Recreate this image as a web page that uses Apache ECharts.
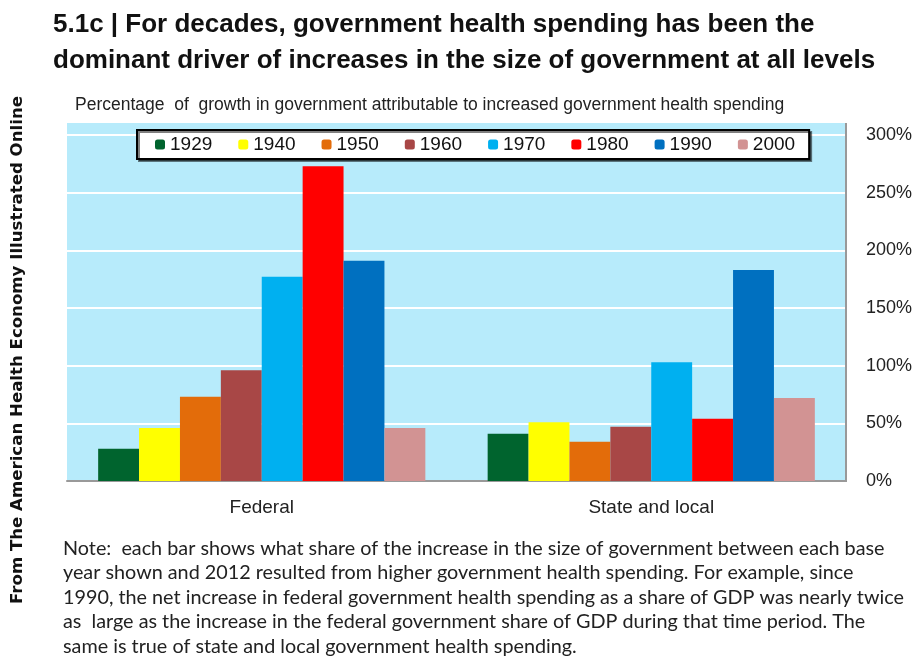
<!DOCTYPE html>
<html lang="en">
  <head>
    <meta charset="UTF-8" />
    <title>Government health spending share of growth</title>
    <script src="https://cdn.jsdelivr.net/npm/echarts@6/dist/echarts.min.js"></script>
    <style>
      html, body { margin: 0; padding: 0; background: #fff; }
    </style>
  </head>

  <body>
    <div id="main" style="width: 923px; height: 657px"></div>
    <script type="text/javascript">
      // chart data
      var categories = ["Federal", "State and local"];
      var years = ["1929", "1940", "1950", "1960", "1970", "1980", "1990", "2000"];
      var federal = [28, 46, 73, 96, 177, 273, 191, 46];
      var stateLocal = [41, 51, 34, 47, 103, 54, 183, 72];
      var yearColors = ["#00642e", "#ffff00", "#e36c0a", "#a84746", "#00b0f0", "#ff0000", "#0070c0", "#d29393"];

      var narrow = "'Liberation Sans Narrow', 'Arial Narrow', 'Liberation Sans', sans-serif";

      var noteLines = [
        "Note:  each bar shows what share of the increase in the size of government between each base",
        "year shown and 2012 resulted from higher government health spending. For example, since",
        "1990, the net increase in federal government health spending as a share of GDP was nearly twice",
        "as  large as the increase in the federal government share of GDP during that time period. The",
        "same is true of state and local government health spending.",
      ];

      function main() {
        var myChart = echarts.init(document.getElementById("main"));

        var series = years.map(function (y, i) {
          return {
            name: y,
            type: "bar",
            data: [federal[i], stateLocal[i]],
            barGap: "0%",
            barCategoryGap: "16%",
            itemStyle: { color: yearColors[i] },
          };
        });

        const option = {
          animation: false,
          title: {
            text: "5.1c | For decades, government health spending has been the\ndominant driver of increases in the size of government at all levels",
            left: 48,
            top: 2,
            textStyle: {
              fontFamily: "'Liberation Sans', Arial, sans-serif",
              fontSize: 26,
              fontWeight: "bold",
              color: "#111",
              lineHeight: 36,
            },
          },
          legend: {
            data: years,
            left: 137,
            top: 130,
            itemWidth: 10,
            itemHeight: 10,
            itemGap: 26,
            padding: [5, 14, 5, 18],
            backgroundColor: "#fff",
            borderColor: "#000",
            borderWidth: 2,
            shadowColor: "rgba(0,0,0,0.5)",
            shadowOffsetX: 2,
            shadowOffsetY: 2,
            textStyle: {
              fontFamily: narrow,
              fontSize: 19,
              color: "#111",
            },
          },
          grid: {
            left: 67,
            right: 77,
            top: 135,
            bottom: 176,
          },
          xAxis: {
            type: "category",
            data: categories,
            axisTick: { show: false },
            axisLine: { lineStyle: { color: "#999", width: 2 } },
            axisLabel: {
              margin: 17,
              fontFamily: narrow,
              fontSize: 19,
              color: "#222",
            },
          },
          yAxis: {
            type: "value",
            position: "right",
            min: 0,
            max: 300,
            interval: 50,
            axisLine: { show: false },
            axisTick: { show: false },
            splitLine: { lineStyle: { color: "#fff", width: 2 } },
            axisLabel: {
              margin: 20,
              formatter: "{value}%",
              fontFamily: narrow,
              fontSize: 18,
              color: "#222",
            },
          },
          graphic: [
            {
              type: "rect",
              z: -10,
              shape: { x: 67, y: 123, width: 779, height: 358 },
              style: { fill: "#b7ebfb" },
            },
            {
              type: "line",
              z: 5,
              shape: { x1: 846, y1: 123, x2: 846, y2: 482 },
              style: { stroke: "#999", lineWidth: 2 },
            },
            {
              type: "text",
              left: 75,
              top: 96,
              style: {
                text: "Percentage  of  growth in government attributable to increased government health spending",
                font: "17.5px " + narrow,
                fill: "#222",
              },
            },
            {
              type: "text",
              x: 18,
              y: 350,
              rotation: Math.PI / 2,
              style: {
                text: "From The American Health Economy Illustrated Online",
                font: "bold 16.6px 'DejaVu Sans', sans-serif",
                fill: "#111",
                align: "center",
                verticalAlign: "middle",
              },
            },
            {
              type: "text",
              left: 63,
              top: 536,
              style: {
                text: noteLines.join("\n"),
                font: "19.8px Lato, sans-serif",
                lineHeight: 24.5,
                fill: "#222",
              },
            },
          ],
          series: series,
        };
        myChart.setOption(option);
      }

      main();
    </script>
  </body>
</html>
